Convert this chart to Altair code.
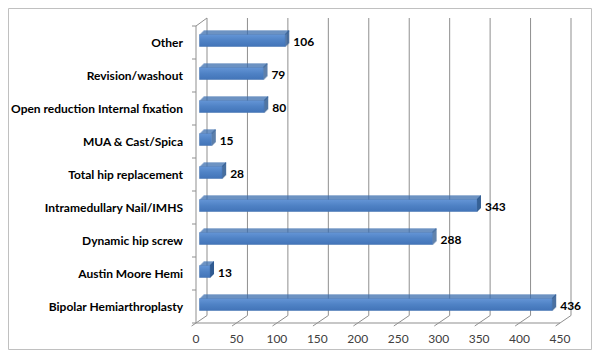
import altair as alt
import pandas as pd

categories = ["Other", "Revision/washout", "Open reduction Internal fixation",
              "MUA & Cast/Spica", "Total hip replacement", "Intramedullary Nail/IMHS",
              "Dynamic hip screw", "Austin Moore Hemi", "Bipolar Hemiarthroplasty"]
values = [106, 79, 80, 15, 28, 343, 288, 13, 436]
ticks = [0, 50, 100, 150, 200, 250, 300, 350, 400, 450]

W, H = 364, 297
XMAX = 450
NCAT = len(categories)
ux = XMAX / W          # data units per pixel (x)
uy = NCAT / H          # data units per pixel (y)

# 3D geometry (pixels)
WALL_DX, WALL_DY = 11, 7.5
BAR_OFF = 3.5
DEPTH = 4
FRONT_TOP, FRONT_BOT = -8, 4

xs = alt.Scale(domain=[0, XMAX], range=[0, W], nice=False, zero=False)
ys = alt.Scale(domain=[0, NCAT], range=[0, H], nice=False, zero=False)


def X(f):
    return alt.X(f, type="quantitative", scale=xs, axis=None, stack=None)


def Y(f):
    return alt.Y(f, type="quantitative", scale=ys, axis=None, stack=None)


GRID = "#8f8f8f"

# back wall gridlines
grid_df = pd.DataFrame({
    "x": [t + WALL_DX * ux for t in ticks],
    "y": [-8 * uy] * len(ticks),
    "y2": [NCAT - WALL_DY * uy] * len(ticks),
})
grid = alt.Chart(grid_df).mark_rule(color=GRID, strokeWidth=1).encode(
    x=X("x"), y=Y("y"), y2=alt.Y2("y2"))

# floor slants (with tick extension)
sl_df = pd.DataFrame({
    "x": [t - 0.4 * WALL_DX * ux for t in ticks],
    "y": [NCAT + 0.4 * WALL_DY * uy] * len(ticks),
    "x2": [t + WALL_DX * ux for t in ticks],
    "y2": [NCAT - WALL_DY * uy] * len(ticks),
})
slants = alt.Chart(sl_df).mark_rule(color=GRID, strokeWidth=1).encode(
    x=X("x"), y=Y("y"), x2=alt.X2("x2"), y2=alt.Y2("y2"))

# front floor edge, left wall edge, top-left slant
edges_df = pd.DataFrame({
    "x": [0, 0, 0],
    "y": [NCAT, 0, 0],
    "x2": [XMAX, 0, WALL_DX * ux],
    "y2": [NCAT, NCAT, -8 * uy],
})
edges = alt.Chart(edges_df).mark_rule(color=GRID, strokeWidth=1).encode(
    x=X("x"), y=Y("y"), x2=alt.X2("x2"), y2=alt.Y2("y2"))

# left ticks
lt_df = pd.DataFrame({"x": [-4 * ux] * (NCAT + 1), "x2": [0] * (NCAT + 1),
                      "y": list(range(NCAT + 1))})
lticks = alt.Chart(lt_df).mark_rule(color=GRID, strokeWidth=1).encode(
    x=X("x"), x2=alt.X2("x2"), y=Y("y"))

# bars: front face + stair-stepped top and side faces (1px steps)
rows_front, rows_top, rows_side = [], [], []
for i, (c, v) in enumerate(zip(categories, values)):
    cy = i + 0.5
    x0 = BAR_OFF * ux
    x1 = v + BAR_OFF * ux
    yt = cy + FRONT_TOP * uy
    yb = cy + FRONT_BOT * uy
    rows_front.append({"cat": c, "x": x0, "x2": x1, "y": yt, "y2": yb})
    for k in range(1, DEPTH + 1):
        rows_top.append({"cat": c, "x": x0 + k * ux, "x2": x1 + k * ux,
                         "y": yt - k * uy, "y2": yt - (k - 1) * uy})
        rows_side.append({"cat": c, "x": x1 + (k - 1) * ux, "x2": x1 + k * ux,
                          "y": yt - k * uy, "y2": yb - (k - 1) * uy})

front_grad = alt.Gradient(
    gradient="linear",
    stops=[alt.GradientStop(color="#6495d6", offset=0),
           alt.GradientStop(color="#4f82c5", offset=0.5),
           alt.GradientStop(color="#4274b8", offset=1)],
    x1=0, x2=0, y1=0, y2=1)

front = alt.Chart(pd.DataFrame(rows_front)).mark_rect(
    color=front_grad, stroke="#3f6fae", strokeWidth=0.5).encode(
    x=X("x"), x2=alt.X2("x2"), y=Y("y"), y2=alt.Y2("y2"))

top = alt.Chart(pd.DataFrame(rows_top)).mark_rect(
    color="#3c6eae", strokeWidth=0).encode(
    x=X("x"), x2=alt.X2("x2"), y=Y("y"), y2=alt.Y2("y2"))

side = alt.Chart(pd.DataFrame(rows_side)).mark_rect(
    color="#2d5990", strokeWidth=0).encode(
    x=X("x"), x2=alt.X2("x2"), y=Y("y"), y2=alt.Y2("y2"))

FONT = "Lato"

lab_df = pd.DataFrame({"cat": categories,
                       "x": [-13 * ux] * NCAT,
                       "y": [i + 0.5 for i in range(NCAT)]})
cat_labels = alt.Chart(lab_df).mark_text(
    align="right", baseline="middle", font=FONT, fontSize=12,
    fontWeight="bold", color="#000000").encode(
    x=X("x"), y=Y("y"), text="cat:N")

val_df = pd.DataFrame({"v": values,
                       "x": [v + (BAR_OFF + DEPTH + 4) * ux for v in values],
                       "y": [i + 0.5 - 1 * uy for i in range(NCAT)]})
val_labels = alt.Chart(val_df).mark_text(
    align="left", baseline="middle", font=FONT, fontSize=12,
    fontWeight="bold", color="#000000").encode(
    x=X("x"), y=Y("y"), text="v:Q")

tk_df = pd.DataFrame({"t": ticks, "y": [NCAT + 16 * uy] * len(ticks)})
tick_labels = alt.Chart(tk_df).mark_text(
    align="center", baseline="middle", font=FONT, fontSize=12,
    color="#404040").encode(
    x=X("t"), y=Y("y"), text="t:Q")

border = alt.Chart(pd.DataFrame({"a": [0]})).mark_rect(
    filled=False, stroke="#c0c0c0", strokeWidth=1).encode(
    x=alt.value(-187.5), x2=alt.value(395.5),
    y=alt.value(-17.5), y2=alt.value(323.5))

chart = alt.layer(
    border, grid, slants, edges, lticks, top, side, front,
    cat_labels, val_labels, tick_labels
).properties(
    width=W, height=H,
    padding={"left": 188, "top": 18, "right": 32, "bottom": 27},
    autosize=alt.AutoSizeParams(type="none"),
    background="white",
).configure_view(stroke=None)

chart.save("out.html", embed_options={"renderer": "svg", "actions": False})
